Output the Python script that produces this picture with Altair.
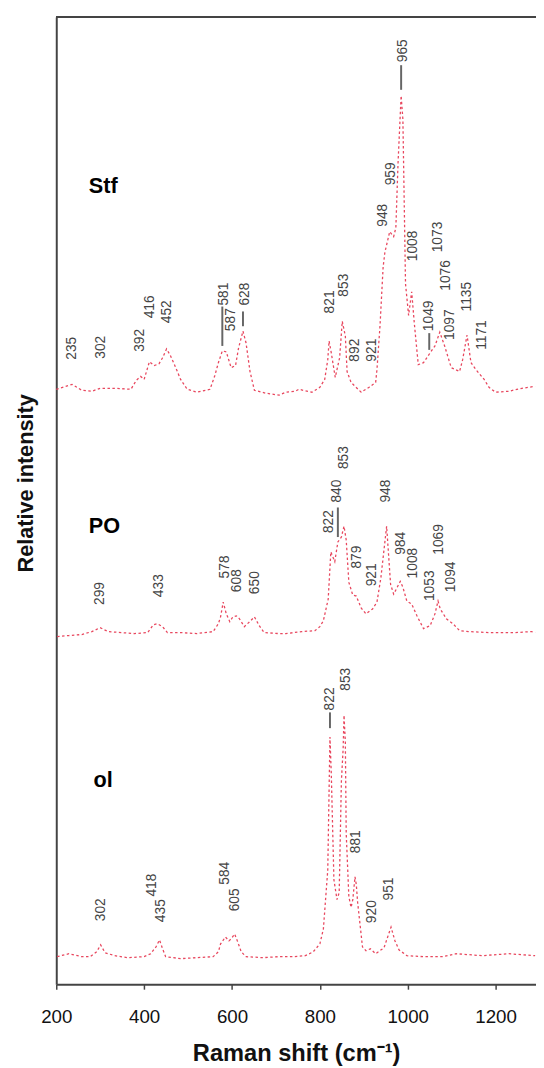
import altair as alt
import pandas as pd

# ---- spectra (x: Raman shift, cm-1 ; y: relative intensity above each trace's baseline) ----
stf_shift = [200, 236, 258, 281, 300, 333, 370, 382, 392, 400, 412, 423, 434, 442, 451, 460, 470, 483, 498, 520,
             550, 561, 569, 578, 587, 598, 608, 615, 625, 632, 641, 651, 677, 707, 722, 744, 752, 782, 800, 811,
             818, 821, 826, 835, 845, 851, 858, 862, 871, 894, 912, 927, 930, 937, 944, 948, 959, 968, 973, 978,
             985, 989, 995, 1002, 1009, 1015, 1024, 1036, 1051, 1062, 1073, 1084, 1099, 1118, 1125, 1135, 1144, 1155, 1174, 1185,
             1200, 1230, 1260, 1290]
stf_int = [0, 5, -1, -2, 1, 1, 0, 9, 13, 10, 28, 24, 26, 32, 41, 34, 24, 10, 0, -3,
           0, 14, 27, 39, 38, 22, 24, 42, 59, 47, 18, -1, -4, -6, -3, -2, 0, -3, 2, 10,
           30, 49, 37, 12, 32, 69, 54, 18, 7, -3, 2, 7, 20, 65, 124, 139, 160, 155, 164, 230,
           298, 274, 107, 75, 99, 67, 25, 27, 37, 44, 58, 44, 22, 18, 30, 55, 27, 20, 10, 2,
           -3, -2, 1, 3]

po_shift = [202, 229, 258, 281, 300, 318, 348, 378, 408, 421, 430, 442, 453, 483, 520, 557, 569, 574, 580, 587,
            595, 602, 610, 617, 628, 640, 651, 662, 673, 707, 722, 759, 789, 800, 808, 815, 819, 825, 834, 841,
            849, 855, 860, 866, 875, 883, 894, 905, 920, 930, 939, 952, 961, 968, 983, 989, 998, 1009, 1021, 1036,
            1051, 1062, 1069, 1074, 1088, 1103, 1118, 1140, 1185, 1245, 1282, 1290]
po_int = [-4, -3, -2, 1, 5, 1, 0, -1, 0, 8, 9, 6, 0, 0, -1, 1, 9, 16, 31, 19,
          11, 16, 17, 14, 6, 11, 16, 7, 0, -1, -1, 1, 2, 6, 12, 26, 34, 82, 72, 92,
          97, 108, 94, 51, 38, 37, 25, 19, 24, 31, 56, 108, 49, 39, 52, 46, 32, 29, 17, 4,
          7, 19, 32, 24, 14, 9, 2, 1, 0, 0, 1, 0]

ol_shift = [202, 229, 258, 277, 292, 301, 311, 333, 363, 400, 415, 427, 435, 442, 449, 483, 520, 557, 569, 574,
            585, 593, 598, 606, 613, 621, 632, 670, 707, 740, 767, 785, 800, 808, 815, 818, 823, 826, 832, 839,
            844, 849, 853, 855, 858, 860, 866, 871, 875, 880, 883, 886, 897, 905, 915, 927, 946, 962, 971, 980,
            998, 1036, 1080, 1110, 1170, 1230, 1290]
ol_int = [0, 3, 0, 0, 5, 12, 4, 1, -1, 0, 3, 10, 17, 8, 0, -2, -1, 0, 5, 13,
          20, 16, 18, 23, 15, 5, 0, -1, 0, 0, 1, 5, 13, 28, 70, 88, 223, 186, 78, 58,
          65, 178, 211, 245, 218, 125, 61, 50, 58, 81, 73, 55, 10, 6, 8, 3, 9, 30, 16, 7,
          1, 0, 0, 3, 1, 3, 1]

series_names = ["Stf", "PO", "ol"]
series_offset = [604, 357, 28]
name_shift = [274, 274, 285]
name_height = [803, 458, 200]

# ---- peak annotations (text, position, height of label foot) ----
peak_text = ["235", "302", "392", "416", "452", "581", "587", "628", "821", "853", "892", "921",
             "948", "959", "965", "1008", "1049", "1073", "1076", "1097", "1135", "1171",
             "299", "433", "578", "608", "650", "822", "840", "853", "879", "921", "948", "984",
             "1008", "1053", "1069", "1094",
             "302", "418", "435", "584", "605", "822", "853", "881", "920", "951"]
peak_shift = [236, 301, 391, 413, 453, 582, 597, 629, 823, 856, 880, 918,
              944, 961, 989, 1013, 1048, 1069, 1088, 1096, 1135, 1170,
              300, 434, 585, 612, 653, 821, 840, 856, 885, 918, 951, 985,
              1012, 1051, 1072, 1098,
              302, 419, 438, 585, 606, 823, 859, 883, 918, 957]
peak_height = [634, 635, 642, 676, 671, 689, 663, 689, 681, 698, 632, 632,
               769, 811, 936, 734, 663, 743, 704, 654, 683, 644,
               385, 393, 412, 398, 396, 458, 489, 523, 422, 404, 489, 436,
               412, 389, 436, 398,
               64, 89, 63, 101, 74, 278, 298, 133, 62, 85]

leader_shift = [578, 625, 985, 1049, 841, 823]
leader_lo = [648, 668, 908, 644, 454, 260]
leader_hi = [688, 683, 933, 661, 484, 276]

x_ticks = [200, 400, 600, 800, 1000, 1200]

# ---- tables ----
rows = []
for name, off, xs, ys in zip(series_names, series_offset,
                             [stf_shift, po_shift, ol_shift], [stf_int, po_int, ol_int]):
    for a, b in zip(xs, ys):
        rows.append({"shift": a, "intensity": b + off, "series": name})
spec = pd.DataFrame(rows)
peaks = pd.DataFrame({"shift": peak_shift, "intensity": peak_height, "label": peak_text})
leaders = pd.DataFrame({"shift": leader_shift, "intensity": leader_lo, "hi": leader_hi})
names = pd.DataFrame({"shift": name_shift, "intensity": name_height, "label": series_names})

FONT = "Liberation Sans"
W, H = 487, 982

xenc = alt.X("shift:Q",
             scale=alt.Scale(domain=[200, 1292], nice=False, zero=False),
             axis=alt.Axis(values=x_ticks, format="d", title="Raman shift (cm⁻¹)", grid=False,
                           tickSize=5, tickWidth=1.5, tickColor="#444", domainColor="#444",
                           domainWidth=2, labelFontSize=19, labelFont=FONT, labelColor="#111",
                           labelFlush=False, labelPadding=19, titleFontSize=24, titleFont=FONT,
                           titleFontWeight="bold", titleColor="#111", titlePadding=15))
yenc = alt.Y("intensity:Q",
             scale=alt.Scale(domain=[0, 982], nice=False, zero=False),
             axis=alt.Axis(ticks=False, labels=False, grid=False, title="Relative intensity",
                           titleFontSize=22, titleFont=FONT, titleFontWeight="bold", titleColor="#111",
                           domainColor="#444", domainWidth=2, titleX=-19, titleY=473))

lines = alt.Chart(spec).mark_line(color="#e8475e", strokeWidth=1.3, strokeDash=[2.5, 2.5]).encode(
    x=xenc, y=yenc, detail="series:N", order="shift:Q")

leader = alt.Chart(leaders).mark_rule(color="#666", strokeWidth=2).encode(
    x="shift:Q", y="intensity:Q", y2="hi:Q")

labels = alt.Chart(peaks).mark_text(angle=270, align="left", baseline="middle", fontSize=14,
                                    font=FONT, color="#444").encode(
    x="shift:Q", y="intensity:Q", text="label:N")

name_text = alt.Chart(names).mark_text(align="left", baseline="alphabetic", fontSize=22,
                                       font=FONT, fontWeight="bold", color="#000").encode(
    x="shift:Q", y="intensity:Q", text="label:N")

top_border = alt.Chart(names).mark_rule(color="#444", strokeWidth=2).encode(
    x=alt.value(0), x2=alt.value(W), y=alt.value(0))

chart = alt.layer(lines, leader, labels, name_text, top_border).properties(
    width=W, height=H,
    autosize=alt.AutoSizeParams(type="none"),
    padding={"left": 49, "top": 1, "right": 0, "bottom": 80},
).configure_view(stroke=None)

chart.save("out.html", embed_options={"renderer": "svg", "actions": False})
